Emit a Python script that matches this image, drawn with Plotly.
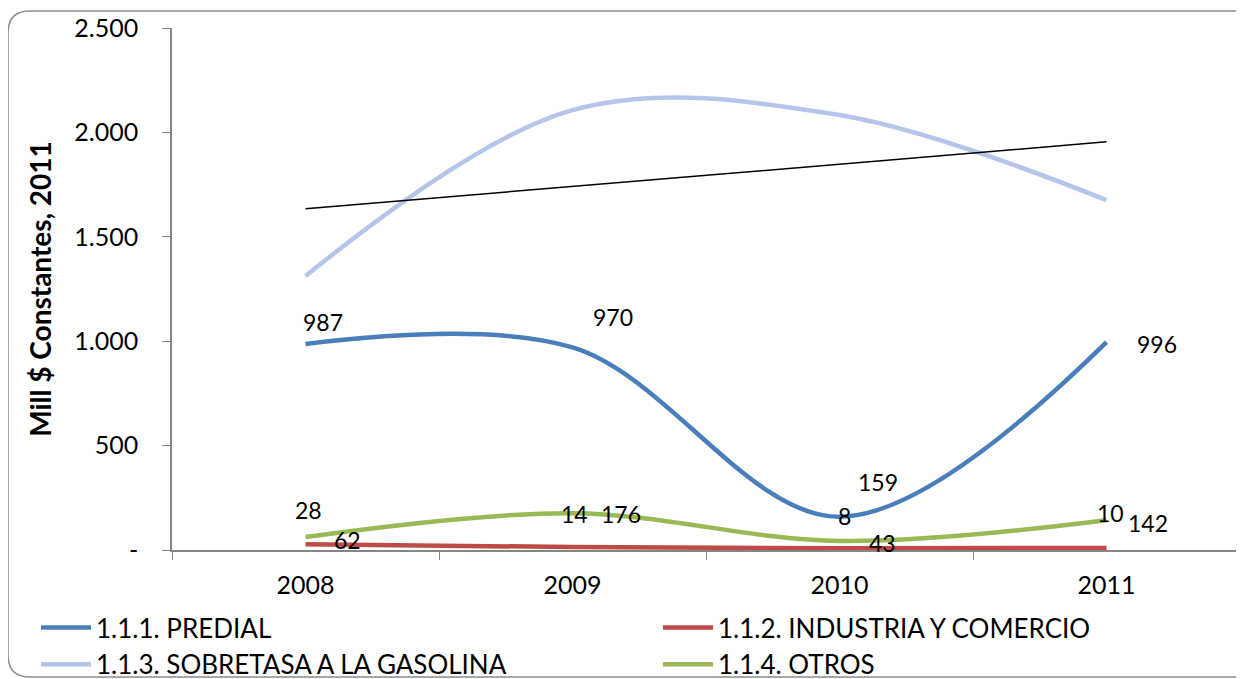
import numpy as np
import plotly.graph_objects as go

years = ["2008", "2009", "2010", "2011"]
predial = [987, 970, 159, 996]
industria = [28, 14, 8, 10]
sobretasa = [1312, 2107, 2083, 1676]
otros = [62, 176, 43, 142]

names = ["1.1.1. PREDIAL", "1.1.2. INDUSTRIA Y COMERCIO",
         "1.1.3. SOBRETASA A LA GASOLINA", "1.1.4. OTROS"]
y_tickvals = [0, 500, 1000, 1500, 2000, 2500]
y_ticktext = ["-", "500", "1.000", "1.500", "2.000", "2.500"]

FONT = "Lato"
# page body has an 8px margin: figure drawn at (8, 8)
OFF = 8
W, H = 1244 - OFF, 679 - OFF
L, R, T, B = 172 - OFF, 4, 28 - OFF, 129

fig = go.Figure()
series = [
    (predial, names[0], "#4a7ebb", "legend"),
    (industria, names[1], "#be4b48", "legend2"),
    (sobretasa, names[2], "#b3c5ea", "legend"),
    (otros, names[3], "#98b954", "legend2"),
]
for vals, name, col, lg in series:
    fig.add_trace(go.Scatter(x=years, y=vals, name=name, mode="lines", legend=lg,
                             line=dict(color=col, width=4.5, shape="spline", smoothing=1.0)))

# linear trend of sobretasa
xi = np.arange(len(years))
m, c = np.polyfit(xi, sobretasa, 1)
fig.add_trace(go.Scatter(x=years, y=m * xi + c, mode="lines", showlegend=False,
                         line=dict(color="black", width=1.5), hoverinfo="skip"))

# data labels (offsets in px)
label_offsets = {
    "predial": [(17, 22), (40, 30), (38, 35), (50, -2)],
    "otros": [(42, -3), (48, -1), (43, -2), (41, -3)],
    "industria": [(3, 34), (2, 33), (5, 32), (4, 35)],
}
for key, vals in (("predial", predial), ("otros", otros), ("industria", industria)):
    for i, (v, (dx, dy)) in enumerate(zip(vals, label_offsets[key])):
        fig.add_annotation(x=i, y=v, xref="x", yref="y", text=str(v), showarrow=False,
                           xshift=dx, yshift=dy,
                           font=dict(family=FONT, size=23, color="black"))

# rounded border (page px -> paper coords)
pw, ph = W - L - R, H - T - B
def px(x): return (x - OFF - L) / pw
def py(y): return (H - B - (y - OFF)) / ph
x0, x1, y0, y1, r = 8, 1262, 11, 677, 22
path = (f"M {px(x0+r)} {py(y0)} L {px(x1-r)} {py(y0)} Q {px(x1)} {py(y0)} {px(x1)} {py(y0+r)} "
        f"L {px(x1)} {py(y1-r)} Q {px(x1)} {py(y1)} {px(x1-r)} {py(y1)} "
        f"L {px(x0+r)} {py(y1)} Q {px(x0)} {py(y1)} {px(x0)} {py(y1-r)} "
        f"L {px(x0)} {py(y0+r)} Q {px(x0)} {py(y0)} {px(x0+r)} {py(y0)} Z")
fig.add_shape(type="path", path=path, xref="paper", yref="paper",
              line=dict(color="#8c8c8c", width=1.5), layer="below")

legend_common = dict(orientation="v", xanchor="left", yanchor="top",
                     tracegroupgap=0, itemwidth=50, bgcolor="rgba(0,0,0,0)",
                     font=dict(family=FONT, size=26, color="black"))

fig.update_layout(
    width=W, height=H,
    margin=dict(l=L, r=R, t=T, b=B, autoexpand=False),
    paper_bgcolor="white", plot_bgcolor="white",
    font=dict(family=FONT, size=24, color="black"),
    showlegend=True,
    legend=dict(x=px(36), y=py(604), **legend_common),
    legend2=dict(x=px(658), y=py(604), **legend_common),
    xaxis=dict(type="category", range=[-0.5, 3.5], showgrid=False, zeroline=False,
               showline=True, linecolor="#868686", linewidth=1.5,
               ticks="outside", tickson="boundaries", ticklen=8, tickcolor="#868686",
               ticklabelstandoff=12, tickfont=dict(size=25)),
    yaxis=dict(range=[0, 2500], showgrid=False, zeroline=False,
               showline=True, linecolor="#868686", linewidth=1.5,
               ticks="outside", ticklen=8, tickcolor="#868686",
               tickvals=y_tickvals, ticktext=y_ticktext, ticklabelstandoff=19,
               tickfont=dict(size=25),
               title=dict(text="<b>Mill $ Constantes, 2011</b>", standoff=15,
                          font=dict(size=28))),
)

fig.write_html("out.html")
